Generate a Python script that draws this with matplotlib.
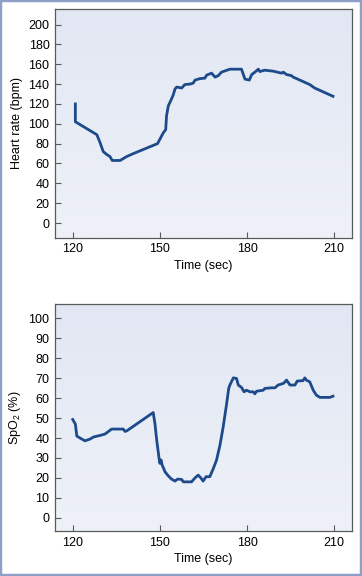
import matplotlib
matplotlib.use('Agg')
import matplotlib.pyplot as plt
from matplotlib.patches import Rectangle
from matplotlib.colors import LinearSegmentedColormap
import numpy as np

plt.rcParams['font.family'] = ['Liberation Sans', 'DejaVu Sans']

# heart rate trace (time in sec, bpm)
hr_time = [120.9, 120.9, 128.3, 129.4, 130.5, 131.7, 132.8, 133.6, 136.3, 138.6,
           140.9, 149.2, 151.2, 152.0, 152.3, 152.9, 153.7, 154.6, 155.2, 155.8,
           157.5, 158.6, 160.4, 161.5, 162.1, 163.8, 165.5, 166.1, 167.8, 169.0,
           170.1, 171.2, 174.1, 178.1, 179.3, 180.8, 181.6, 182.7, 183.9, 184.4,
           186.1, 189.0, 191.9, 192.5, 193.6, 195.3, 195.9, 198.2, 201.6, 203.3,
           209.6]
hr_bpm = [120, 102, 89, 81, 72, 69, 67, 63, 63, 67,
          70, 80, 91, 94, 108, 118, 123, 129, 135, 137,
          136, 139.5, 140, 141, 144, 145.5, 146, 149, 151, 147,
          148.5, 152, 155, 155, 145, 144, 149.5, 152, 155, 152.6,
          154, 153, 151, 152, 149.6, 148.5, 147, 144, 139.5, 136,
          127.7]

# oxygen saturation trace (time in sec, %)
spo2_time = [120.0, 120.5, 120.9, 121.4, 122.5, 124.2, 126.0, 127.1, 129.4, 131.1,
             133.4, 137.4, 138.0, 138.6, 147.7, 148.3, 148.9, 149.8, 150.0, 150.4,
             150.8, 151.8, 152.9, 154.0, 155.2, 156.1, 157.5, 158.1, 160.9, 162.1,
             163.2, 164.1, 164.9, 165.9, 167.2, 168.4, 169.5, 170.7, 171.8, 173.0,
             173.7, 174.1, 175.3, 176.4, 177.0, 178.1, 179.0, 179.8, 181.0, 182.1,
             182.7, 183.3, 185.6, 186.1, 188.4, 189.6, 190.7, 192.5, 193.1, 193.6,
             194.8, 196.5, 197.3, 199.3, 199.9, 200.5, 201.6, 202.8, 203.9, 205.1,
             208.5, 209.6]
spo2_pct = [49.3, 48, 47, 41, 40, 38.6, 39.5, 40.5, 41.3, 42,
            44.5, 44.5, 43.3, 43.6, 52.8, 47.3, 39, 29, 27.3, 29,
            26.4, 23, 21, 19.4, 18.4, 19.4, 19.2, 18, 18, 20,
            21.4, 20, 18.4, 20.6, 20.6, 24.7, 28.9, 36.5, 45.6, 57.4,
            64.9, 66.6, 70.2, 69.9, 66.6, 65.4, 63.2, 64, 63.2, 63.2,
            62.2, 63.5, 64, 64.9, 65.2, 65.2, 66.6, 67.4, 68.2, 69.1,
            66.6, 66.6, 68.6, 68.8, 70.2, 69, 68.2, 64, 61.5, 60.4,
            60.4, 61]

x_ticks = [120, 150, 180, 210]
hr_ticks = list(range(0, 201, 20))
spo2_ticks = list(range(0, 101, 10))

line_color = '#1c4a8a'
spine_color = '#5a5a5a'
bg = LinearSegmentedColormap.from_list('bg', ['#eef1f8', '#e2e7f3'])

fig = plt.figure(figsize=(3.62, 5.76), dpi=100)
fig.patches.append(Rectangle((0, 0), 1, 1, transform=fig.transFigure,
                             fill=False, edgecolor='#8d9ec8', linewidth=3.2))

axA = fig.add_axes([0.152, 0.587, 0.820, 0.398])
axB = fig.add_axes([0.152, 0.078, 0.820, 0.395])


def style(ax, yticks, ylim, ylabel):
    ax.imshow(np.linspace(0, 1, 100).reshape(-1, 1)[::-1], cmap=bg, aspect='auto',
              extent=[0, 1, 0, 1], transform=ax.transAxes, zorder=0)
    ax.set_xlim(113.9, 216.1)
    ax.set_ylim(*ylim)
    ax.set_xticks(x_ticks)
    ax.set_yticks(yticks)
    ax.tick_params(direction='in', length=4, width=0.8, color=spine_color,
                   labelsize=9, pad=4)
    for s in ax.spines.values():
        s.set_color(spine_color)
        s.set_linewidth(0.9)
    ax.set_xlabel('Time (sec)', fontsize=9, labelpad=3)
    ax.set_ylabel(ylabel, fontsize=9, labelpad=4)


style(axA, hr_ticks, (-15, 216), 'Heart rate (bpm)')
axA.plot(hr_time, hr_bpm, color=line_color, linewidth=2.0, solid_joinstyle='round')

style(axB, spo2_ticks, (-6.7, 107.5), 'Sp$\\mathregular{O_2}$ (%)')
axB.plot(spo2_time, spo2_pct, color=line_color, linewidth=2.0, solid_joinstyle='round')

fig.savefig('out.png', dpi=100)
